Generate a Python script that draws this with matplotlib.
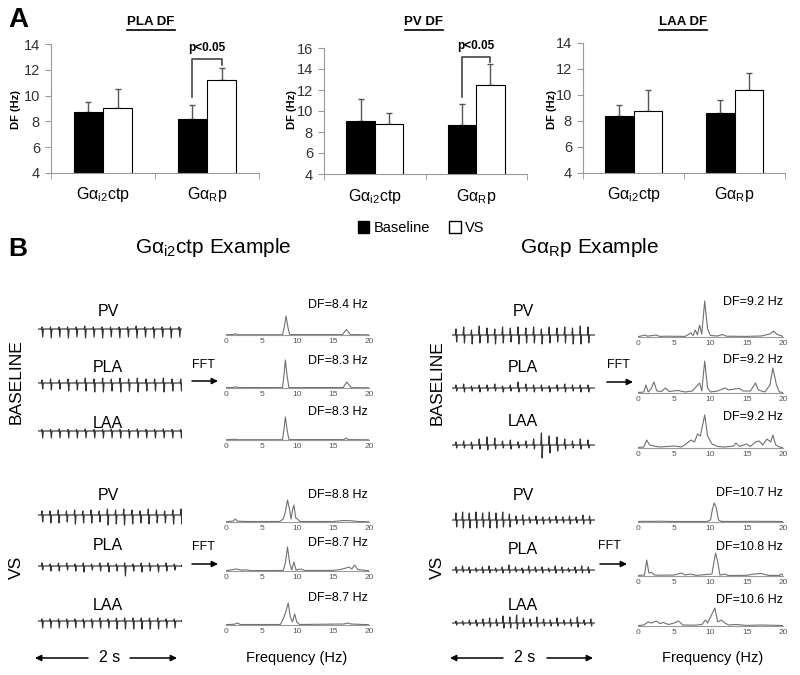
import matplotlib
matplotlib.use("Agg")
import matplotlib.pyplot as plt
import numpy as np
from matplotlib.patches import Patch
from matplotlib.lines import Line2D

plt.rcParams["font.family"] = ["Liberation Sans", "DejaVu Sans"]
plt.rcParams["mathtext.default"] = "regular"

W, H = 800, 675

# ---- panel A data ----
groups = ["G\u03b1$_{i2}$ctp", "G\u03b1$_{R}$p"]
pla_base = [8.7, 8.2]
pla_base_err = [0.8, 1.1]
pla_vs = [9.0, 11.2]
pla_vs_err = [1.5, 0.95]
pv_base = [9.05, 8.7]
pv_base_err = [2.05, 2.0]
pv_vs = [8.75, 12.5]
pv_vs_err = [1.1, 2.0]
laa_base = [8.4, 8.6]
laa_base_err = [0.85, 1.05]
laa_vs = [8.8, 10.4]
laa_vs_err = [1.6, 1.3]

# ---- panel B data: dominant frequencies ----
df_i_base = [8.4, 8.3, 8.3]
df_i_vs = [8.8, 8.7, 8.7]
df_r_base = [9.2, 9.2, 9.2]
df_r_vs = [10.7, 10.8, 10.6]

# spectra as (frequency Hz, power a.u.) points
spec_i_base = [
    [(0, 0.3), (1.0, 0.5), (1.3, 1.2), (1.6, 0.3), (7.9, 0.3), (8.15, 8), (8.4, 19), (8.65, 8), (8.9, 0.4),
     (16.3, 0.4), (16.6, 3.5), (16.85, 5.5), (17.1, 3), (17.4, 0.4), (20, 0.2)],
    [(0, 0.3), (1.0, 0.6), (1.3, 1.2), (1.6, 0.5), (7.9, 0.4), (8.1, 12), (8.3, 28), (8.55, 12), (8.8, 0.4),
     (16.4, 0.5), (16.7, 4), (16.9, 6), (17.2, 3), (17.5, 0.4), (20, 0.2)],
    [(0, 0.2), (1.3, 0.8), (1.6, 0.3), (7.9, 0.3), (8.1, 10), (8.3, 23), (8.55, 10), (8.8, 0.4),
     (16.5, 0.4), (16.8, 2.0), (17.1, 0.4), (20, 0.2)],
]
spec_i_vs = [
    [(0, 0.3), (1.0, 1.0), (1.3, 3), (1.6, 0.8), (3, 0.5), (7.5, 0.5), (8.0, 3), (8.3, 10), (8.6, 22),
     (8.9, 12), (9.1, 3), (9.3, 12), (9.5, 17), (9.75, 4), (10.0, 3), (10.3, 0.5), (15, 0.5), (16.5, 1.5),
     (17.5, 1.2), (18.5, 0.5), (20, 0.3)],
    [(0, 0.3), (1.0, 1.5), (1.5, 2), (2.2, 0.8), (2.8, 1.2), (3.5, 0.4), (8.0, 0.5), (8.3, 8), (8.6, 24),
     (8.9, 8), (9.2, 1), (9.5, 9), (9.8, 1), (10.5, 2), (11, 0.5), (15, 0.6), (16, 1.5), (16.8, 3),
     (17.2, 4), (17.6, 2), (18.0, 6), (18.4, 1.5), (20, 0.3)],
    [(0, 0.3), (1.2, 0.8), (1.6, 2), (2.0, 0.5), (7.6, 0.5), (8.0, 6), (8.4, 14), (8.7, 22), (9.0, 8),
     (9.3, 3), (9.6, 11), (9.9, 3), (10.3, 0.5), (16.5, 1), (17.0, 2), (17.5, 1), (20, 0.3)],
]
spec_r_base = [
    [(0, 0.3), (1.0, 2), (1.3, 0.8), (2.5, 2), (3, 0.6), (4, 0.8), (6.5, 0.6), (7.3, 4), (7.6, 1.5),
     (7.9, 7), (8.2, 2), (8.5, 12), (8.8, 3), (9.2, 36), (9.6, 8), (10.0, 1.5), (11, 1), (11.6, 2.5),
     (12.2, 0.8), (15, 0.6), (17, 1), (18.2, 3), (18.7, 6), (19.2, 2.5), (20, 0.6)],
    [(0, 0.5), (0.8, 1), (1.1, 8), (1.4, 1), (1.8, 4), (2.2, 11), (2.6, 2), (3.2, 1.5), (3.8, 5),
     (4.3, 1.5), (5.5, 2.5), (6.5, 1), (7.5, 2), (8.0, 6), (8.5, 10), (8.8, 2), (9.2, 32), (9.6, 5),
     (10.0, 1), (11, 2), (12, 5), (12.5, 3), (13.3, 4), (14, 4.5), (14.5, 2), (15.5, 2), (16.2, 10),
     (16.6, 3), (17.5, 1), (18.2, 8), (18.6, 25), (19.1, 8), (19.5, 1), (20, 0.5)],
    [(0, 0.5), (0.8, 1), (1.2, 8), (1.6, 3), (2.2, 2), (3, 1), (5, 2), (6, 1), (6.8, 5), (7.3, 8),
     (7.8, 6), (8.2, 14), (8.6, 12), (9.2, 33), (9.6, 12), (10.2, 4), (11, 1.5), (12, 1), (13.2, 2),
     (13.5, 5), (14, 1.5), (15, 4), (15.5, 1.5), (16.2, 6), (16.7, 7), (17.2, 3), (17.8, 9), (18.3, 6),
     (18.6, 13), (19.0, 3), (19.5, 1), (20, 0.5)],
]
spec_r_vs = [
    [(0, 0.5), (1, 0.7), (2, 0.6), (3, 0.8), (5, 0.5), (9.5, 0.5), (10.0, 2), (10.3, 14), (10.5, 19),
     (10.8, 14), (11.1, 2), (11.5, 0.6), (13, 0.5), (16, 0.7), (20, 0.5)],
    [(0, 0.5), (0.9, 1), (1.2, 16), (1.5, 3), (1.9, 3.5), (2.3, 1), (3, 0.8), (5, 1), (6, 3), (6.5, 1),
     (7.2, 2), (8, 0.6), (10.2, 2), (10.5, 15), (10.7, 23), (11.0, 14), (11.3, 1), (12, 2), (12.4, 0.5),
     (15, 0.7), (16, 2), (17, 2.5), (18, 0.6), (19.5, 0.6), (19.8, 2), (20, 0.5)],
    [(0, 0.5), (0.8, 1), (1.4, 4), (1.9, 3), (2.5, 5), (3.0, 2.5), (3.5, 3.5), (4.2, 1.5), (5, 3),
     (5.6, 5), (6.2, 1), (8, 0.8), (8.8, 1.5), (9.3, 6), (9.6, 3), (10.2, 12), (10.6, 18), (11.0, 4),
     (11.5, 6), (12.0, 3), (12.5, 1), (13.5, 1.5), (15, 0.6), (17, 1), (20, 0.5)],
]

# electrograms: (upstroke, downstroke) per activation, a.u.
egm_i_base = [
    [(2, 8), (2, 9), (2, 8), (2, 9), (2, 8), (3, 9), (2, 8), (2, 9), (2, 8), (2, 9), (2, 8), (3, 9), (2, 8),
     (2, 9), (2, 8), (2, 9), (2, 8)],
    [(3, 6), (4, 7), (3, 6), (4, 8), (3, 7), (5, 8), (4, 9), (5, 9), (4, 8), (5, 9), (4, 8), (5, 9), (4, 8),
     (4, 8), (5, 9), (4, 8), (4, 8)],
    [(1.5, 7), (1.5, 7), (2, 7), (1.5, 7), (1.5, 7), (2, 7), (1.5, 7), (1.5, 7), (2, 7), (1.5, 7), (1.5, 7),
     (2, 7), (1.5, 7), (1.5, 7), (2, 7), (1.5, 7), (1.5, 7)],
]
egm_i_vs = [
    [(4, 7), (4, 8), (5, 8), (4, 7), (5, 9), (4, 8), (5, 8), (4, 7), (6, 10), (5, 9), (6, 10), (5, 9), (4, 8),
     (6, 9), (5, 8), (4, 8), (5, 9), (6, 9)],
    [(3, 4), (2, 5), (3, 5), (3, 4), (2, 5), (3, 6), (2, 4), (3, 5), (3, 6), (2, 5), (3, 10), (2, 5), (3, 6),
     (3, 5), (2, 6), (3, 5), (2, 4), (3, 4)],
    [(2, 7), (2, 7), (2, 7), (2, 7), (2, 7), (2, 7), (2, 7), (3, 7), (2, 7), (3, 8), (3, 8), (3, 8), (3, 8),
     (3, 8), (3, 8), (2, 7), (2, 7), (2, 7)],
]
egm_r_base = [
    [(6, 7), (8, 8), (5, 9), (9, 8), (7, 8), (6, 9), (8, 8), (7, 7), (8, 9), (7, 8), (8, 8), (6, 9), (8, 8),
     (7, 7), (8, 8), (7, 9), (9, 9), (8, 8)],
    [(3, 3), (4, 4), (2, 3), (3, 4), (3, 3), (4, 3), (2, 4), (3, 3), (6, 4), (4, 3), (3, 4), (3, 3), (2, 4),
     (3, 3), (4, 4), (3, 3), (3, 4), (3, 4)],
    [(3, 3), (4, 3), (3, 4), (6, 4), (8, 5), (7, 4), (4, 3), (5, 4), (3, 3), (4, 3), (6, 4), (12, 13),
     (9, 8), (8, 6), (6, 4), (4, 3), (6, 4), (5, 3)],
]
egm_r_vs = [
    [(7, 7), (8, 8), (7, 8), (8, 8), (7, 7), (8, 8), (7, 8), (8, 7), (6, 7), (4, 4), (5, 5), (3, 3), (4, 4),
     (3, 4), (3, 3), (4, 3), (3, 3), (4, 4), (3, 3), (5, 4), (4, 4)],
    [(3, 3), (4, 2), (3, 3), (2, 2), (3, 3), (4, 3), (2, 2), (3, 3), (5, 3), (3, 2), (2, 3), (4, 3), (3, 2),
     (3, 3), (2, 2), (4, 3), (3, 3), (2, 2), (3, 3), (4, 3), (3, 3)],
    [(2, 2), (2, 2), (3, 2), (3, 3), (4, 3), (5, 4), (4, 3), (7, 5), (6, 5), (8, 6), (5, 4), (4, 3), (6, 4),
     (4, 3), (3, 3), (5, 3), (3, 2), (4, 3), (6, 4), (3, 2), (4, 3)],
]

fig = plt.figure(figsize=(8, 6.75), dpi=100)


def px_axes(x0, y0, x1, y1):
    return fig.add_axes([x0 / W, 1 - y1 / H, (x1 - x0) / W, (y1 - y0) / H])


def ftext(x, y, s, **kw):
    kw.setdefault("ha", "center")
    kw.setdefault("va", "center")
    return fig.text(x / W, 1 - y / H, s, **kw)


def farrow(x0, x1, y, lw=1.1, ms=9):
    fig.add_artist(matplotlib.patches.FancyArrowPatch(
        (x0 / W, 1 - y / H), (x1 / W, 1 - y / H), transform=fig.transFigure,
        arrowstyle="-|>", mutation_scale=ms, lw=lw, color="black", shrinkA=0, shrinkB=0))


# ---------------- panel A ----------------
bar_w = 0.28
x = np.array([0.5, 1.5])
panels = [
    ("PLA DF", pla_base, pla_base_err, pla_vs, pla_vs_err, (51, 44, 259, 173), (4, 14), 151, 16),
    ("PV DF", pv_base, pv_base_err, pv_vs, pv_vs_err, (324, 48, 527, 174), (4, 16), 424, 292),
    ("LAA DF", laa_base, laa_base_err, laa_vs, laa_vs_err, (583, 43, 785, 173), (4, 14), 683, 552),
]
titles = []
for name, b, be, v, ve, box, ylim, tx, lx in panels:
    ax = px_axes(*box)
    ax.bar(x - bar_w / 2, b, bar_w, bottom=0, color="black", edgecolor="black", lw=0.8, zorder=2)
    ax.bar(x + bar_w / 2, v, bar_w, color="white", edgecolor="black", lw=0.8, zorder=2)
    ax.errorbar(x - bar_w / 2, b, yerr=[np.zeros(2), be], fmt="none", ecolor="#555555",
                elinewidth=1, capsize=2, zorder=1)
    ax.errorbar(x + bar_w / 2, v, yerr=[np.zeros(2), ve], fmt="none", ecolor="#555555",
                elinewidth=1, capsize=2, zorder=1)
    ax.set_xlim(0, 2)
    ax.set_ylim(*ylim)
    ax.set_yticks(np.arange(ylim[0], ylim[1] + 1, 2))
    ax.set_xticks(x)
    ax.set_xticklabels(groups, fontsize=11.5)
    ax.set_xticks([0, 1, 2], minor=True)
    ax.tick_params(axis="x", which="major", length=0, pad=9)
    ax.tick_params(axis="x", which="minor", length=4, color="#999999")
    ax.tick_params(axis="y", length=4, color="#999999", labelsize=10.5, labelcolor="#333333", pad=4)
    for s in ["top", "right"]:
        ax.spines[s].set_visible(False)
    for s in ["left", "bottom"]:
        ax.spines[s].set_color("#999999")
    ax.patch.set_alpha(0)
    titles.append(ftext(tx, 22, name, fontsize=9.5, fontweight="bold"))
    ftext(lx, 110, "DF (Hz)", fontsize=8, fontweight="bold", rotation=90)
    if name == "PLA DF":
        ax.plot([1.36, 1.36, 1.64, 1.64], [9.9, 12.8, 12.8, 12.4], color="#444444", lw=1.2, clip_on=False)
        ax.text(1.5, 13.7, "p<0.05", ha="center", va="center", fontsize=8.5, fontweight="bold")
    if name == "PV DF":
        ax.plot([1.36, 1.36, 1.64, 1.64], [11.3, 15.15, 15.15, 14.7], color="#444444", lw=1.2, clip_on=False)
        ax.text(1.5, 16.2, "p<0.05", ha="center", va="center", fontsize=8.5, fontweight="bold")

ftext(18, 20, "A", fontsize=20, fontweight="bold")
fig.legend(handles=[Patch(facecolor="black", edgecolor="black"),
                    Patch(facecolor="white", edgecolor="black")],
           labels=["Baseline", "VS"], loc="center", bbox_to_anchor=(421 / W, 1 - 228 / H), ncol=2,
           frameon=False, fontsize=10.5, handlelength=0.8, handleheight=0.8, handletextpad=0.3,
           columnspacing=1.3)

# ---------------- panel B ----------------
ftext(18, 249, "B", fontsize=19, fontweight="bold")
ftext(213, 247, "G\u03b1$_{i2}$ctp Example", fontsize=15)
ftext(590, 247, "G\u03b1$_{R}$p Example", fontsize=15)

sites = ["PV", "PLA", "LAA"]


def draw_egm(box, beats, df):
    ax = px_axes(*box)
    tx, ty = [0.0], [0.0]
    for k, (up, down) in enumerate(beats):
        t = 0.06 + k / df
        tx += [t - 0.014, t - 0.005, t + 0.005, t + 0.014]
        ty += [0, up, -down, 0]
    tx.append(2.0)
    ty.append(0)
    ax.plot(tx, ty, color="#333333", lw=0.85)
    ax.set_xlim(0, 2.0)
    ax.set_ylim(-15, 15)
    ax.axis("off")


def draw_spec(box, pts):
    ax = px_axes(*box)
    f = [p[0] for p in pts]
    a = [p[1] for p in pts]
    ax.plot(f, a, color="#707070", lw=0.8)
    ax.set_xlim(0, 20)
    ax.set_ylim(0, 40)
    ax.set_xticks([0, 5, 10, 15, 20])
    ax.set_yticks([])
    ax.tick_params(axis="x", length=0, labelsize=6, labelcolor="#555555", pad=2)
    for s in ["top", "right", "left"]:
        ax.spines[s].set_visible(False)
    ax.spines["bottom"].set_color("#999999")
    ax.spines["bottom"].set_linewidth(0.8)
    ax.patch.set_alpha(0)


blocks = [
    # egm x-range, label x, spec x-range, df text x, data, egm baselines, label ys, spec axes, df ys
    (38, 182, 108, 226, 369, 368, egm_i_base, df_i_base, spec_i_base,
     [329, 383, 431], [312, 367, 423], [335, 388, 440], [305, 361, 412]),
    (38, 182, 108, 226, 369, 368, egm_i_vs, df_i_vs, spec_i_vs,
     [515, 566, 621], [495, 545, 605], [522, 571, 625], [495, 543, 598]),
    (452, 595, 523, 638, 783, 783, egm_r_base, df_r_base, spec_r_base,
     [335, 388, 445], [312, 367, 422], [337, 393, 448], [302, 360, 417]),
    (452, 595, 523, 638, 783, 783, egm_r_vs, df_r_vs, spec_r_vs,
     [520, 570, 623], [495, 550, 605], [522, 576, 626], [493, 547, 600]),
]
for (ex0, ex1, lbx, sx0, sx1, dfx, egms, dfs, specs, eys, lys, sys_, dys) in blocks:
    for i in range(3):
        ftext(lbx, lys[i], sites[i], fontsize=11.5)
        draw_egm((ex0, eys[i] - 15, ex1, eys[i] + 15), egms[i], dfs[i])
        draw_spec((sx0, sys_[i] - 40, sx1, sys_[i]), specs[i])
        ftext(dfx, dys[i], f"DF={dfs[i]} Hz", fontsize=9, ha="right")

# FFT arrows
for fx, fy, a0, a1, ay in [(203, 365, 192, 218, 381), (203, 547, 192, 218, 564),
                           (618, 365, 607, 633, 382), (609, 546, 600, 627, 564)]:
    ftext(fx, fy, "FFT", fontsize=9)
    farrow(a0, a1, ay)

# row labels
ftext(16, 382, "BASELINE", fontsize=12.5, rotation=90)
ftext(16, 567, "VS", fontsize=12.5, rotation=90)
ftext(437, 383, "BASELINE", fontsize=12.5, rotation=90)
ftext(437, 567, "VS", fontsize=12.5, rotation=90)

# time scale and frequency axis labels
for l0, l1, tx, r0, r1 in [(88, 35, 110, 130, 177), (503, 450, 525, 547, 593)]:
    farrow(l0, l1, 658)
    ftext(tx, 658, "2 s", fontsize=11.5)
    farrow(r0, r1, 658)
ftext(297, 658, "Frequency (Hz)", fontsize=10.5)
ftext(713, 658, "Frequency (Hz)", fontsize=10.5)

# underline the panel A titles
fig.canvas.draw()
r = fig.canvas.get_renderer()
for t in titles:
    bb = t.get_window_extent(r)
    fig.add_artist(Line2D([bb.x0 / W, bb.x1 / W], [(bb.y0 - 1.5) / H, (bb.y0 - 1.5) / H],
                          transform=fig.transFigure, color="black", lw=1.2))

plt.savefig("out.png", dpi=100)
